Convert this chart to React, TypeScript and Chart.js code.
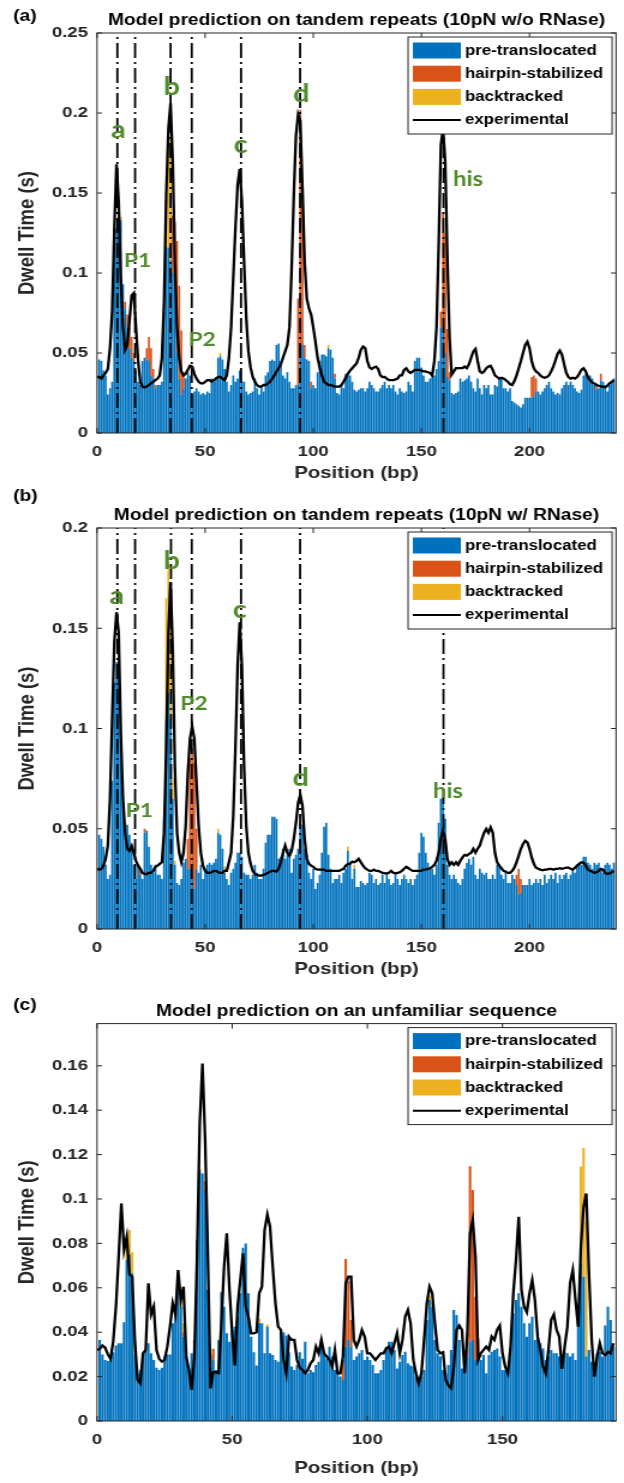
import React, { useEffect, useRef } from "react";
import { Chart, registerables } from "chart.js";
Chart.register(...registerables);

// The reference figure is stretched horizontally; draw on a narrower canvas and widen it with CSS.
const SX = 1.2;
const PAGE_W = 624;
const CANVAS_W = PAGE_W / SX;
const PLOT_LEFT = 97 / SX;
const PLOT_RIGHT = 616 / SX;
const FONT = "'Liberation Sans', Arial, Helvetica, sans-serif";
const NOTE_FONT = "Lato, 'Open Sans', sans-serif";
const BLUE = "#0072BD";
const ORANGE = "#D95319";
const YELLOW = "#EDB120";
const INK = "#262626";
const GREEN = "#4F8A2B";

const seriesNames = ["pre-translocated", "hairpin-stabilized", "backtracked", "experimental"];
const xAxisTitle = "Position (bp)";
const yAxisTitle = "Dwell Time (s)";

// ---------------- Panel (a) ----------------
const titleA = "Model prediction on tandem repeats (10pN w/o RNase)";
// pre-translocated dwell, positions 1..239
const preA = [
  0.046, 0.045, 0.039, 0.036, 0.024, 0.028, 0.032, 0.120, 0.128, 0.135,
  0.133, 0.093, 0.078, 0.066, 0.053, 0.047, 0.045, 0.039, 0.032, 0.030,
  0.045, 0.047, 0.046, 0.045, 0.036, 0.034, 0.028, 0.030, 0.030, 0.032,
  0.076, 0.116, 0.116, 0.108, 0.100, 0.090, 0.050, 0.034, 0.024, 0.028,
  0.034, 0.038, 0.036, 0.024, 0.026, 0.028, 0.026, 0.024, 0.025, 0.024,
  0.026, 0.025, 0.034, 0.032, 0.035, 0.047, 0.048, 0.046, 0.040, 0.032,
  0.026, 0.030, 0.036, 0.032, 0.034, 0.039, 0.032, 0.032, 0.026, 0.024,
  0.025, 0.026, 0.034, 0.028, 0.024, 0.030, 0.026, 0.036, 0.038, 0.045,
  0.046, 0.045, 0.055, 0.056, 0.045, 0.036, 0.034, 0.038, 0.032, 0.028,
  0.028, 0.030, 0.030, 0.055, 0.055, 0.047, 0.046, 0.045, 0.028, 0.030,
  0.028, 0.038, 0.045, 0.049, 0.049, 0.048, 0.053, 0.052, 0.047, 0.034,
  0.025, 0.024, 0.030, 0.028, 0.037, 0.036, 0.036, 0.032, 0.027, 0.026,
  0.027, 0.028, 0.028, 0.026, 0.028, 0.032, 0.030, 0.028, 0.026, 0.026,
  0.028, 0.030, 0.032, 0.028, 0.030, 0.028, 0.030, 0.026, 0.024, 0.028,
  0.026, 0.025, 0.026, 0.032, 0.030, 0.026, 0.045, 0.047, 0.047, 0.041,
  0.036, 0.032, 0.032, 0.034, 0.038, 0.036, 0.040, 0.045, 0.066, 0.066,
  0.050, 0.035, 0.033, 0.025, 0.024, 0.025, 0.026, 0.034, 0.032, 0.033,
  0.034, 0.036, 0.032, 0.028, 0.026, 0.034, 0.028, 0.024, 0.030, 0.028,
  0.030, 0.024, 0.024, 0.030, 0.029, 0.034, 0.034, 0.028, 0.028, 0.026,
  0.028, 0.020, 0.019, 0.018, 0.017, 0.016, 0.018, 0.022, 0.022, 0.022,
  0.022, 0.023, 0.026, 0.026, 0.024, 0.026, 0.028, 0.030, 0.032, 0.028,
  0.026, 0.024, 0.025, 0.024, 0.028, 0.030, 0.032, 0.030, 0.032, 0.030,
  0.028, 0.026, 0.025, 0.027, 0.036, 0.037, 0.035, 0.036, 0.034, 0.030,
  0.027, 0.028, 0.033, 0.032, 0.030, 0.026, 0.030, 0.032, 0.034,
];
// [position, extra dwell]
const hairA = [
  [13, 0.004], [14, 0.008], [15, 0.013], [16, 0.013], [17, 0.005],
  [23, 0.007], [24, 0.015], [25, 0.017], [26, 0.006], [27, 0.002],
  [35, 0.036], [36, 0.042], [37, 0.070], [38, 0.058], [39, 0.040], [40, 0.010],
  [93, 0.054], [94, 0.147], [95, 0.099], [96, 0.008], [99, 0.004], [110, 0.003],
  [159, 0.010], [160, 0.072], [161, 0.075], [162, 0.030], [163, 0.005],
  [201, 0.013], [202, 0.013], [203, 0.008], [231, 0.004], [233, 0.004],
];
const backA = [[11, 0.002], [32, 0.030], [33, 0.060], [34, 0.076], [57, 0.002], [107, 0.002]];
// experimental dwell, positions 0..239
const expA = [
  0.035, 0.035, 0.034, 0.036, 0.0375, 0.040, 0.053, 0.076, 0.128, 0.168,
  0.145, 0.097, 0.066, 0.052, 0.055, 0.070, 0.086, 0.0875, 0.066, 0.045,
  0.032, 0.029, 0.0285, 0.029, 0.030, 0.031, 0.032, 0.033, 0.034, 0.036,
  0.047, 0.082, 0.149, 0.190, 0.206, 0.170, 0.107, 0.066, 0.047, 0.0385,
  0.036, 0.037, 0.0395, 0.042, 0.0415, 0.037, 0.034, 0.032, 0.031, 0.031,
  0.032, 0.033, 0.033, 0.032, 0.033, 0.034, 0.035, 0.035, 0.034, 0.033,
  0.036, 0.047, 0.066, 0.097, 0.128, 0.155, 0.165, 0.145, 0.107, 0.072,
  0.051, 0.041, 0.035, 0.032, 0.030, 0.029, 0.029, 0.030, 0.030, 0.031,
  0.032, 0.034, 0.036, 0.0385, 0.0405, 0.043, 0.047, 0.051, 0.055, 0.066,
  0.103, 0.149, 0.186, 0.199, 0.195, 0.153, 0.107, 0.084, 0.078, 0.074,
  0.066, 0.057, 0.047, 0.041, 0.036, 0.032, 0.031, 0.030, 0.030, 0.0295,
  0.029, 0.029, 0.029, 0.030, 0.032, 0.0345, 0.037, 0.039, 0.0405, 0.042,
  0.0435, 0.047, 0.052, 0.054, 0.053, 0.045, 0.041, 0.040, 0.041, 0.0415,
  0.040, 0.036, 0.035, 0.035, 0.034, 0.033, 0.033, 0.033, 0.0335, 0.034,
  0.036, 0.036, 0.0395, 0.0405, 0.0385, 0.0375, 0.0385, 0.0395, 0.0395, 0.0395,
  0.039, 0.0385, 0.0385, 0.038, 0.0375, 0.036, 0.045, 0.066, 0.118, 0.180,
  0.190, 0.170, 0.110, 0.060, 0.0365, 0.0385, 0.0405, 0.0405, 0.0405, 0.0405,
  0.0415, 0.0405, 0.043, 0.047, 0.051, 0.0525, 0.045, 0.0385, 0.0375, 0.0385,
  0.0405, 0.0415, 0.042, 0.0395, 0.036, 0.035, 0.034, 0.0345, 0.034, 0.033,
  0.032, 0.0305, 0.030, 0.0325, 0.036, 0.0405, 0.045, 0.050, 0.055, 0.057,
  0.053, 0.045, 0.0405, 0.0385, 0.0375, 0.036, 0.035, 0.0345, 0.035, 0.036,
  0.0385, 0.0415, 0.0455, 0.0495, 0.0515, 0.049, 0.043, 0.0375, 0.035, 0.034,
  0.0345, 0.034, 0.035, 0.037, 0.0395, 0.0405, 0.0385, 0.035, 0.033, 0.0315,
  0.031, 0.030, 0.0295, 0.029, 0.029, 0.0285, 0.0295, 0.031, 0.032, 0.033,
];
const markersA = [9.4, 17.6, 34, 43.8, 66.6, 93.9, 160.2];
const noteTextA = ["a", "P1", "b", "P2", "c", "d", "his"];
const noteXA = [9.9, 18.8, 34.5, 48.6, 66.4, 94.5, 171.6];
const noteYA = [0.189, 0.1073, 0.216, 0.0583, 0.18, 0.2115, 0.1585];

// ---------------- Panel (b) ----------------
const titleB = "Model prediction on tandem repeats (10pN w/ RNase)";
const preB = [
  0.047, 0.045, 0.041, 0.032, 0.025, 0.027, 0.074, 0.123, 0.133, 0.135,
  0.091, 0.063, 0.053, 0.052, 0.047, 0.042, 0.032, 0.025, 0.032, 0.027,
  0.025, 0.048, 0.049, 0.041, 0.032, 0.028, 0.032, 0.027, 0.027, 0.025,
  0.055, 0.105, 0.118, 0.105, 0.065, 0.032, 0.023, 0.022, 0.025, 0.033,
  0.035, 0.030, 0.030, 0.025, 0.020, 0.030, 0.028, 0.032, 0.025, 0.030,
  0.032, 0.033, 0.032, 0.033, 0.035, 0.048, 0.047, 0.040, 0.028, 0.025,
  0.022, 0.028, 0.030, 0.033, 0.038, 0.038, 0.036, 0.028, 0.027, 0.027,
  0.025, 0.027, 0.032, 0.028, 0.025, 0.025, 0.030, 0.043, 0.047, 0.047,
  0.056, 0.056, 0.055, 0.035, 0.036, 0.040, 0.035, 0.037, 0.040, 0.028,
  0.035, 0.037, 0.040, 0.053, 0.052, 0.040, 0.037, 0.028, 0.025, 0.030,
  0.020, 0.023, 0.027, 0.038, 0.051, 0.053, 0.037, 0.030, 0.023, 0.025,
  0.025, 0.027, 0.023, 0.028, 0.030, 0.039, 0.032, 0.025, 0.030, 0.021,
  0.021, 0.024, 0.023, 0.022, 0.023, 0.028, 0.027, 0.023, 0.025, 0.022,
  0.023, 0.027, 0.023, 0.028, 0.025, 0.022, 0.023, 0.027, 0.025, 0.022,
  0.025, 0.027, 0.025, 0.023, 0.025, 0.022, 0.025, 0.027, 0.038, 0.048,
  0.046, 0.038, 0.033, 0.030, 0.030, 0.027, 0.032, 0.053, 0.065, 0.066,
  0.055, 0.032, 0.027, 0.025, 0.027, 0.025, 0.023, 0.022, 0.025, 0.030,
  0.033, 0.035, 0.032, 0.036, 0.027, 0.025, 0.030, 0.028, 0.027, 0.028,
  0.025, 0.025, 0.027, 0.025, 0.032, 0.032, 0.027, 0.025, 0.028, 0.023,
  0.023, 0.027, 0.025, 0.022, 0.017, 0.018, 0.022, 0.022, 0.022, 0.025,
  0.022, 0.023, 0.025, 0.023, 0.025, 0.022, 0.027, 0.023, 0.025, 0.027,
  0.025, 0.028, 0.023, 0.027, 0.025, 0.027, 0.028, 0.025, 0.027, 0.030,
  0.028, 0.032, 0.033, 0.032, 0.036, 0.036, 0.033, 0.032, 0.030, 0.033,
  0.032, 0.033, 0.030, 0.028, 0.032, 0.033, 0.032, 0.030, 0.033,
];
const hairB = [
  [20, 0.002], [22, 0.002], [42, 0.015], [43, 0.055], [44, 0.065], [45, 0.063], [46, 0.020],
  [194, 0.005], [195, 0.013], [196, 0.007],
];
const backB = [
  [10, 0.002], [32, 0.060], [33, 0.065], [34, 0.050], [35, 0.010], [36, 0.002],
  [56, 0.002], [59, 0.003], [116, 0.002], [119, 0.002],
];
const expB = [
  0.030, 0.0296, 0.030, 0.0316, 0.035, 0.0416, 0.065, 0.105, 0.143, 0.158,
  0.148, 0.098, 0.065, 0.048, 0.040, 0.039, 0.0415, 0.038, 0.034, 0.0316,
  0.030, 0.028, 0.0274, 0.0274, 0.028, 0.028, 0.029, 0.031, 0.0316, 0.0325,
  0.0333, 0.048, 0.090, 0.148, 0.173, 0.140, 0.081, 0.048, 0.038, 0.0333,
  0.038, 0.0515, 0.078, 0.095, 0.101, 0.095, 0.073, 0.0515, 0.038, 0.0316,
  0.029, 0.028, 0.028, 0.0283, 0.029, 0.029, 0.0283, 0.028, 0.028, 0.029,
  0.029, 0.0333, 0.038, 0.0565, 0.090, 0.131, 0.153, 0.131, 0.081, 0.0515,
  0.038, 0.0325, 0.029, 0.0274, 0.027, 0.0266, 0.0266, 0.027, 0.0274, 0.028,
  0.0286, 0.029, 0.029, 0.0286, 0.030, 0.0333, 0.038, 0.0416, 0.038, 0.0366,
  0.039, 0.045, 0.053, 0.063, 0.067, 0.0615, 0.045, 0.035, 0.0325, 0.0316,
  0.031, 0.030, 0.0296, 0.0296, 0.0296, 0.0296, 0.029, 0.029, 0.029, 0.029,
  0.029, 0.029, 0.029, 0.0295, 0.030, 0.0316, 0.0325, 0.0325, 0.0336, 0.0333,
  0.034, 0.035, 0.0333, 0.0316, 0.0303, 0.0296, 0.029, 0.029, 0.0296, 0.029,
  0.029, 0.0286, 0.028, 0.0277, 0.0277, 0.028, 0.029, 0.028, 0.0277, 0.028,
  0.0283, 0.029, 0.030, 0.031, 0.0303, 0.0296, 0.029, 0.029, 0.029, 0.029,
  0.029, 0.0296, 0.0296, 0.030, 0.0303, 0.031, 0.032, 0.0341, 0.038, 0.045,
  0.049, 0.045, 0.035, 0.032, 0.0333, 0.032, 0.0333, 0.032, 0.034, 0.0357,
  0.037, 0.0366, 0.0374, 0.038, 0.040, 0.038, 0.040, 0.0416, 0.045, 0.048,
  0.0499, 0.048, 0.0507, 0.048, 0.038, 0.0333, 0.0316, 0.0303, 0.029, 0.0286,
  0.028, 0.028, 0.029, 0.0306, 0.0333, 0.0366, 0.040, 0.0424, 0.044, 0.0432,
  0.040, 0.0357, 0.0325, 0.0306, 0.030, 0.0296, 0.0293, 0.0296, 0.0296, 0.030,
  0.030, 0.0296, 0.030, 0.030, 0.0303, 0.030, 0.0303, 0.0306, 0.0306, 0.030,
  0.0296, 0.0306, 0.0316, 0.0325, 0.0333, 0.033, 0.0316, 0.0296, 0.029, 0.0286,
  0.028, 0.0283, 0.029, 0.030, 0.0296, 0.028, 0.0274, 0.0277, 0.0283, 0.029,
];
const markersB = [9.4, 17.6, 34.2, 43.8, 66.6, 93.9, 160.2];
const noteTextB = ["a", "P1", "b", "P2", "c", "d", "his"];
const noteXB = [9.1, 19.6, 34.5, 44.9, 66.0, 94.2, 162.3];
const noteYB = [0.166, 0.059, 0.1834, 0.1124, 0.159, 0.075, 0.0688];

// ---------------- Panel (c) ----------------
const titleC = "Model prediction on an unfamiliar sequence";
// positions 1..191
const preC = [
  0.0365, 0.030, 0.0275, 0.027, 0.0275, 0.031, 0.034, 0.035, 0.035, 0.0445,
  0.0725, 0.075, 0.0665, 0.030, 0.0215, 0.023, 0.0305, 0.032, 0.035, 0.0305,
  0.0275, 0.024, 0.023, 0.024, 0.029, 0.030, 0.030, 0.044, 0.0515, 0.0635,
  0.0515, 0.038, 0.029, 0.023, 0.0305, 0.0365, 0.0815, 0.1125, 0.1115, 0.104,
  0.059, 0.030, 0.0275, 0.023, 0.0365, 0.058, 0.0515, 0.0395, 0.0357, 0.041,
  0.0425, 0.047, 0.0575, 0.078, 0.080, 0.0575, 0.038, 0.031, 0.025, 0.044,
  0.044, 0.0305, 0.0425, 0.0305, 0.0297, 0.0275, 0.0267, 0.0395, 0.040, 0.0385,
  0.031, 0.0245, 0.023, 0.0252, 0.031, 0.028, 0.0357, 0.0215, 0.023, 0.022,
  0.0252, 0.0267, 0.037, 0.031, 0.028, 0.0335, 0.029, 0.023, 0.0215, 0.020,
  0.0185, 0.0335, 0.0365, 0.0335, 0.0275, 0.029, 0.0305, 0.032, 0.0275, 0.029,
  0.0275, 0.0252, 0.0215, 0.0215, 0.023, 0.0275, 0.0335, 0.0357, 0.0357, 0.032,
  0.0237, 0.0267, 0.0297, 0.0312, 0.026, 0.025, 0.0245, 0.020, 0.0192, 0.020,
  0.023, 0.0455, 0.0545, 0.0515, 0.0365, 0.0305, 0.029, 0.023, 0.0215, 0.0252,
  0.032, 0.050, 0.0477, 0.0365, 0.0237, 0.0275, 0.029, 0.0357, 0.0365, 0.0275,
  0.0305, 0.0275, 0.0297, 0.0215, 0.0297, 0.0312, 0.032, 0.0327, 0.029, 0.023,
  0.023, 0.023, 0.0327, 0.0485, 0.0545, 0.0575, 0.0515, 0.044, 0.038, 0.044,
  0.047, 0.0365, 0.038, 0.035, 0.0327, 0.0275, 0.029, 0.032, 0.0305, 0.0305,
  0.029, 0.0275, 0.0312, 0.0305, 0.029, 0.0305, 0.0275, 0.045, 0.071, 0.065,
  0.029, 0.032, 0.0267, 0.026, 0.0305, 0.0312, 0.029, 0.043, 0.0515, 0.0455,
  0.0335,
];
const hairC = [
  [32, 0.002], [40, 0.004], [43, 0.005], [91, 0.009], [92, 0.0395], [93, 0.0265], [94, 0.012],
  [136, 0.002], [137, 0.0105], [138, 0.079], [139, 0.0675], [140, 0.0285], [141, 0.0065],
];
const backC = [
  [11, 0.0055], [12, 0.011], [13, 0.0095], [14, 0.006], [30, 0.002], [31, 0.007], [32, 0.004],
  [38, 0.001], [60, 0.002], [63, 0.001], [123, 0.002], [124, 0.002],
  [179, 0.0436], [180, 0.058], [181, 0.061],
];
// positions 0..191
const expC = [
  0.032, 0.0325, 0.034, 0.033, 0.030, 0.028, 0.036, 0.0515, 0.074, 0.098,
  0.077, 0.083, 0.066, 0.065, 0.036, 0.0185, 0.017, 0.0305, 0.032, 0.062,
  0.048, 0.0515, 0.032, 0.028, 0.0267, 0.0275, 0.0335, 0.0425, 0.053, 0.048,
  0.068, 0.0545, 0.0605, 0.029, 0.023, 0.014, 0.029, 0.074, 0.134, 0.161,
  0.1266, 0.074, 0.0147, 0.022, 0.022, 0.0215, 0.044, 0.0695, 0.0845, 0.059,
  0.0395, 0.025, 0.0515, 0.0635, 0.0755, 0.0515, 0.047, 0.0395, 0.0395, 0.040,
  0.0575, 0.0605, 0.086, 0.093, 0.0875, 0.0695, 0.053, 0.0425, 0.041, 0.0275,
  0.0215, 0.038, 0.0365, 0.0365, 0.0275, 0.024, 0.023, 0.0215, 0.023, 0.026,
  0.0275, 0.0335, 0.0305, 0.0365, 0.0305, 0.029, 0.0275, 0.0245, 0.032, 0.0215,
  0.0215, 0.029, 0.062, 0.065, 0.065, 0.0365, 0.0335, 0.0365, 0.041, 0.038,
  0.0305, 0.0305, 0.029, 0.0275, 0.029, 0.0305, 0.0305, 0.0327, 0.0335, 0.0305,
  0.035, 0.0395, 0.0305, 0.0365, 0.047, 0.050, 0.044, 0.0275, 0.0215, 0.017,
  0.0215, 0.0365, 0.053, 0.0605, 0.0575, 0.044, 0.032, 0.0305, 0.031, 0.0185,
  0.016, 0.0147, 0.0245, 0.041, 0.043, 0.041, 0.0215, 0.0395, 0.0845, 0.0905,
  0.074, 0.0275, 0.0305, 0.032, 0.0335, 0.032, 0.038, 0.0365, 0.041, 0.043,
  0.0305, 0.0245, 0.0215, 0.0335, 0.0575, 0.0725, 0.092, 0.059, 0.0515, 0.049,
  0.0575, 0.0635, 0.0545, 0.038, 0.032, 0.0245, 0.0215, 0.032, 0.0455, 0.048,
  0.041, 0.038, 0.0235, 0.0335, 0.0425, 0.062, 0.068, 0.0545, 0.0425, 0.0785,
  0.0965, 0.1025, 0.0665, 0.0365, 0.020, 0.029, 0.035, 0.0305, 0.0297, 0.0312,
  0.0305, 0.035,
];

type Spec = {
  tag: string; title: string; top: number; height: number; plotTop: number; plotBottom: number;
  tagY: number; xMax: number; yMax: number; yStep: number; xTitlePad: number;
  pre: number[]; hair: number[][]; back: number[][]; exp: number[];
  markers: number[]; noteText: string[]; noteX: number[]; noteY: number[];
};

const specs: Spec[] = [
  { tag: "(a)", title: titleA, top: 0, height: 490, plotTop: 33, plotBottom: 433, tagY: 17,
    xMax: 240, yMax: 0.25, yStep: 0.05, xTitlePad: 6.8,
    pre: preA, hair: hairA, back: backA, exp: expA, markers: markersA, noteText: noteTextA, noteX: noteXA, noteY: noteYA },
  { tag: "(b)", title: titleB, top: 485, height: 500, plotTop: 43, plotBottom: 444, tagY: 12,
    xMax: 240, yMax: 0.2, yStep: 0.05, xTitlePad: 5.3,
    pre: preB, hair: hairB, back: backB, exp: expB, markers: markersB, noteText: noteTextB, noteX: noteXB, noteY: noteYB },
  { tag: "(c)", title: titleC, top: 985, height: 498, plotTop: 38.6, plotBottom: 436, tagY: 21,
    xMax: 192, yMax: 0.179, yStep: 0.02, xTitlePad: 4.8,
    pre: preC, hair: hairC, back: backC, exp: expC, markers: [], noteText: [], noteX: [], noteY: [] },
];

const fmt = (v: any) => String(Number(Number(v).toFixed(4)));

function Panel({ spec }: { spec: Spec }) {
  const ref = useRef<HTMLCanvasElement>(null);
  useEffect(() => {
    const s = spec;
    const canvas = ref.current as HTMLCanvasElement;
    const barStyle = { stack: "model", barPercentage: 0.92, categoryPercentage: 1, order: 2 };
    const datasets: any[] = [
      {
        type: "line", label: seriesNames[3], data: s.exp.map((v, i) => ({ x: i, y: v })),
        borderColor: "#000", borderWidth: 2.3, pointRadius: 0, stack: "exp", order: 0,
      },
      ...s.markers.map((p, i) => ({
        type: "line", label: "marker", data: [{ x: p, y: 0 }, { x: p, y: s.yMax }],
        borderColor: "#000", borderWidth: 1.8, borderDash: [15, 4, 2, 4], pointRadius: 0,
        stack: "m" + i, order: 1,
      })),
      { type: "bar", label: seriesNames[0], data: s.pre.map((v, i) => ({ x: i + 1, y: v })), backgroundColor: BLUE, ...barStyle },
      { type: "bar", label: seriesNames[1], data: s.hair.map(([p, v]) => ({ x: p, y: v })), backgroundColor: ORANGE, ...barStyle },
      { type: "bar", label: seriesNames[2], data: s.back.map(([p, v]) => ({ x: p, y: v })), backgroundColor: YELLOW, ...barStyle },
    ];

    const framePlugin = {
      id: "frame",
      afterDatasetsDraw(chart: any) {
        const { ctx, chartArea: a, scales } = chart;
        const x = scales.x, y = scales.y;
        ctx.save();
        ctx.strokeStyle = INK;
        ctx.lineWidth = 1;
        ctx.strokeRect(a.left, a.top, a.right - a.left, a.bottom - a.top);
        ctx.beginPath();
        const tl = 5, tlx = 5 / SX;
        x.ticks.forEach((t: any) => {
          const px = x.getPixelForValue(t.value);
          ctx.moveTo(px, a.bottom); ctx.lineTo(px, a.bottom - tl);
          ctx.moveTo(px, a.top); ctx.lineTo(px, a.top + tl);
        });
        y.ticks.forEach((t: any) => {
          const py = y.getPixelForValue(t.value);
          ctx.moveTo(a.left, py); ctx.lineTo(a.left + tlx, py);
          ctx.moveTo(a.right, py); ctx.lineTo(a.right - tlx, py);
        });
        ctx.stroke();
        // green annotations
        ctx.fillStyle = GREEN;
        ctx.textAlign = "center";
        ctx.textBaseline = "middle";
        s.noteText.forEach((t, i) => {
          const size = t.length === 1 ? 24 : t === "his" ? 20 : 19;
          ctx.font = `bold ${size}px ${NOTE_FONT}`;
          ctx.fillText(t, x.getPixelForValue(s.noteX[i]), y.getPixelForValue(s.noteY[i]));
        });
        ctx.restore();
      },
      afterDraw(chart: any) {
        const { ctx, chartArea: a } = chart;
        ctx.save();
        // title and panel tag
        ctx.fillStyle = "#000";
        ctx.textBaseline = "middle";
        ctx.textAlign = "center";
        ctx.font = `bold 16px ${FONT}`;
        ctx.fillText(s.title, (a.left + a.right) / 2, a.top - 12.5);
        ctx.textAlign = "left";
        ctx.font = `bold 16px ${FONT}`;
        ctx.fillText(s.tag, 11, s.tagY);
        // legend box
        const bw = 170, bh = 97;
        const bx = a.right - 3.3 - bw, by = a.top + 4;
        ctx.fillStyle = "#fff";
        ctx.fillRect(bx, by, bw, bh);
        ctx.strokeStyle = INK;
        ctx.lineWidth = 1;
        ctx.strokeRect(bx, by, bw, bh);
        const colors = [BLUE, ORANGE, YELLOW];
        ctx.font = `bold 14px ${FONT}`;
        seriesNames.forEach((name, i) => {
          const cy = by + 13.5 + i * 23.2;
          if (i < 3) {
            ctx.fillStyle = colors[i];
            ctx.fillRect(bx + 4, cy - 8, 40, 16);
          } else {
            ctx.strokeStyle = "#000";
            ctx.lineWidth = 2;
            ctx.beginPath();
            ctx.moveTo(bx + 4, cy);
            ctx.lineTo(bx + 44, cy);
            ctx.stroke();
          }
          ctx.fillStyle = "#000";
          ctx.textAlign = "left";
          ctx.fillText(name, bx + 47.5, cy + 0.5);
        });
        ctx.restore();
      },
    };

    const tickFont = { family: FONT, size: 15.5, weight: "bold" as const };
    const chart = new Chart(canvas, {
      type: "bar",
      data: { datasets },
      options: {
        responsive: false,
        animation: false,
        devicePixelRatio: 1,
        layout: { padding: { top: s.plotTop, right: CANVAS_W - PLOT_RIGHT, left: 0, bottom: 0 } },
        plugins: { legend: { display: false }, tooltip: { enabled: false }, title: { display: false } },
        scales: {
          x: {
            type: "linear", min: 0, max: s.xMax, offset: false,
            grid: { display: false, drawTicks: false }, border: { display: false },
            ticks: { stepSize: 50, includeBounds: false, padding: 9.2, color: INK, font: tickFont, maxRotation: 0, autoSkip: false, callback: fmt },
            title: { display: true, text: xAxisTitle, color: INK, font: { family: FONT, size: 17, weight: "bold" }, padding: { top: 0, bottom: s.xTitlePad } },
            afterFit: (sc: any) => { sc.height = s.height - s.plotBottom; },
          },
          y: {
            type: "linear", min: 0, max: s.yMax, stacked: true,
            grid: { display: false, drawTicks: false }, border: { display: false },
            ticks: { stepSize: s.yStep, includeBounds: false, padding: 7.5, color: INK, font: tickFont, autoSkip: false, callback: fmt },
            title: { display: true, text: yAxisTitle, color: INK, font: { family: FONT, size: 18.5, weight: "bold" }, padding: { top: 12.2, bottom: 0 } },
            afterFit: (sc: any) => { sc.width = PLOT_LEFT; },
          },
        } as any,
      },
      plugins: [framePlugin],
    } as any);
    return () => chart.destroy();
  }, [spec]);
  return (
    <canvas
      ref={ref}
      width={CANVAS_W}
      height={spec.height}
      style={{ position: "absolute", left: 0, top: spec.top, width: PAGE_W, height: spec.height, display: "block" }}
    />
  );
}

export default function App() {
  return (
    <div style={{ position: "absolute", left: 0, top: 0, width: PAGE_W, height: 1483, background: "#fff", overflow: "hidden" }}>
      {specs.map((s) => (
        <Panel key={s.tag} spec={s} />
      ))}
    </div>
  );
}
